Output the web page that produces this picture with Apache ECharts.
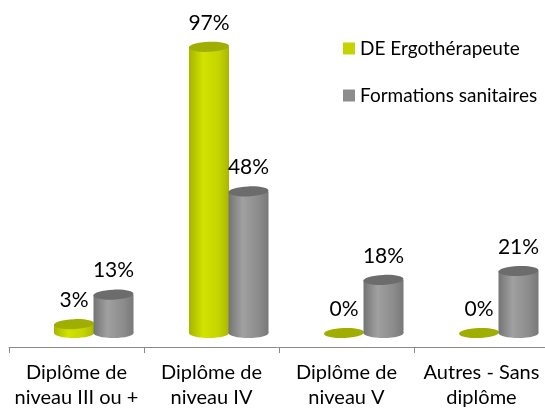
<!DOCTYPE html>
<html>
<head>
<meta charset="utf-8">
<script src="https://cdn.jsdelivr.net/npm/echarts@6/dist/echarts.min.js"></script>
<style>
  html, body { margin: 0; padding: 0; background: #fff; }
  #chart { width: 545px; height: 408px; }
</style>
</head>
<body>
<div id="chart"></div>
<script>
// categories and values
const categories = ['Diplôme de\nniveau III ou +', 'Diplôme de\nniveau IV', 'Diplôme de\nniveau V', 'Autres - Sans\ndiplôme'];
const seriesNames = ['DE Ergothérapeute', 'Formations sanitaires'];
const ergoValues = [3, 97, 0, 0];
const sanitairesValues = [13, 48, 18, 21];

const FONT = 'Lato, "Open Sans", sans-serif';

// colours of each cylinder: side gradient + top ellipse
const palettes = [
  { legend: '#c3d400', side: ['#a6b400', '#d2e200', '#c4d400', '#a9b600'], top: '#9fae00' },
  { legend: '#8c8c8c', side: ['#747474', '#a0a0a0', '#8c8c8c', '#787878'], top: '#6c6c6c' }
];

const myChart = echarts.init(document.getElementById('chart'), null, { renderer: 'canvas' });

// draws a cylinder for one value, offset from the category centre
function cylinder(pal, shift) {
  return function (params, api) {
    const idx = api.value(0);
    const val = api.value(1);
    const base = api.coord([idx, 0]);
    const top = api.coord([idx, val]);
    const w = 40;
    const ry = 5;
    const cx = base[0] + shift;
    const x0 = cx - w / 2;
    const sideFill = new echarts.graphic.LinearGradient(0, 0, 1, 0, [
      { offset: 0, color: pal.side[0] },
      { offset: 0.35, color: pal.side[1] },
      { offset: 0.75, color: pal.side[2] },
      { offset: 1, color: pal.side[3] }
    ]);
    const children = [];
    if (val > 0) {
      children.push({
        type: 'ellipse',
        shape: { cx: cx, cy: base[1], rx: w / 2, ry: ry },
        style: { fill: sideFill }
      });
      children.push({
        type: 'rect',
        shape: { x: x0, y: top[1], width: w, height: base[1] - top[1] },
        style: { fill: sideFill }
      });
    }
    children.push({
      type: 'ellipse',
      shape: { cx: cx, cy: top[1], rx: w / 2, ry: ry },
      rotation: 0.04,
      originX: cx,
      originY: top[1],
      style: { fill: pal.top }
    });
    children.push({
      type: 'text',
      x: cx,
      y: top[1] - 24,
      style: {
        text: val + '%',
        fill: '#000',
        font: '21px ' + FONT,
        align: 'center',
        verticalAlign: 'middle'
      }
    });
    return { type: 'group', children: children };
  };
}

const option = {
  animation: false,
  backgroundColor: '#fff',
  legend: {
    orient: 'vertical',
    left: 338,
    top: 34,
    itemWidth: 12,
    itemHeight: 12,
    itemGap: 28,
    icon: 'rect',
    textStyle: { fontFamily: FONT, fontSize: 19, color: '#000' },
    data: seriesNames
  },
  grid: { left: 9, right: -4, top: 38, bottom: 75, outerBoundsMode: 'none', containLabel: false },
  xAxis: {
    type: 'category',
    data: categories,
    offset: 14,
    axisLine: { onZero: false, lineStyle: { color: '#8a8a8a', width: 1 } },
    axisTick: { show: true, length: 6, interval: 0, lineStyle: { color: '#8a8a8a' } },
    axisLabel: {
      interval: 0,
      margin: 13,
      color: '#000',
      fontFamily: FONT,
      fontSize: 20,
      lineHeight: 25
    }
  },
  yAxis: {
    type: 'value',
    min: 0,
    max: 100,
    show: false,
    splitLine: { show: false }
  },
  series: [
    {
      name: seriesNames[0],
      type: 'custom',
      itemStyle: { color: palettes[0].legend },
      renderItem: cylinder(palettes[0], -2.5),
      data: ergoValues.map((v, i) => [i, v])
    },
    {
      name: seriesNames[1],
      type: 'custom',
      itemStyle: { color: palettes[1].legend },
      renderItem: cylinder(palettes[1], 37),
      data: sanitairesValues.map((v, i) => [i, v])
    }
  ]
};

myChart.setOption(option);
</script>
</body>
</html>
